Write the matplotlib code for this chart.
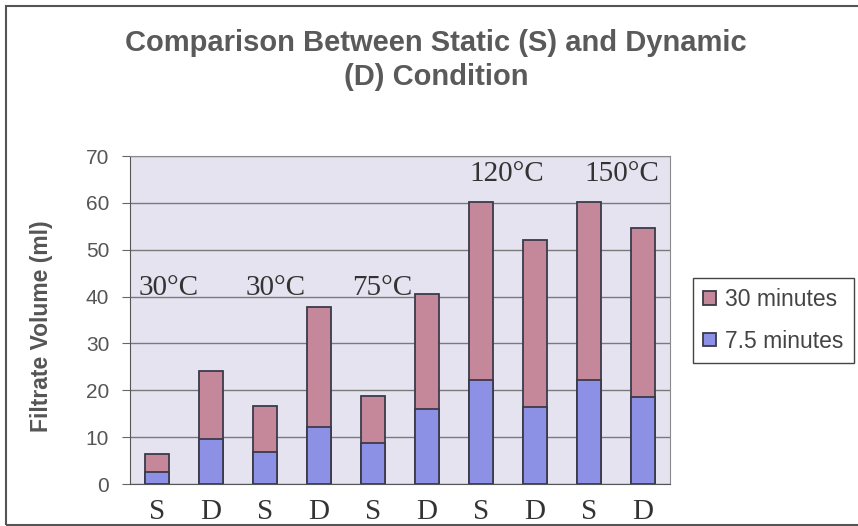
import matplotlib.pyplot as plt
from matplotlib.patches import Rectangle
import numpy as np

conditions = ['S', 'D', 'S', 'D', 'S', 'D', 'S', 'D', 'S', 'D']
vol_30min = [6.3, 24.1, 16.6, 37.8, 18.8, 40.5, 60.2, 52.0, 60.2, 54.7]
vol_7_5min = [2.6, 9.6, 6.9, 12.1, 8.7, 16.1, 22.2, 16.5, 22.3, 18.5]
temp_labels = ['30°C', '30°C', '75°C', '120°C', '150°C']
temp_x = [0.21, 2.19, 4.18, 6.47, 8.6]
temp_y = [40.3, 40.3, 40.3, 64.6, 64.6]

fig = plt.figure(figsize=(8.58, 5.26), dpi=100)
ax = fig.add_axes([130/858, 1-484/526, 540/858, 328/526])

# chart frame
fig.patches.append(Rectangle((6/858, 0.002), 1, 1-7/526, transform=fig.transFigure,
                             fill=False, edgecolor='#555555', linewidth=1.5))

x = np.arange(len(conditions))
ax.bar(x, vol_30min, width=0.45, color='#c5889a', edgecolor='#3a3a4a',
       linewidth=1.3, label='30 minutes', zorder=3)
ax.bar(x, vol_7_5min, width=0.45, color='#8d91e6', edgecolor='#3a3a4a',
       linewidth=1.3, label='7.5 minutes', zorder=3)

ax.set_facecolor('#e5e3ef')
ax.set_xlim(-0.5, len(conditions) - 0.5)
ax.set_ylim(0, 70)
ax.set_yticks(range(0, 71, 10))
ax.grid(axis='y', color='#7a7a7a', linewidth=1.0, zorder=1)
ax.set_xticks(x)
ax.set_xticklabels(conditions, family='Liberation Serif', fontsize=21, color='#333333')
ax.tick_params(axis='x', length=0, pad=11)
ax.tick_params(axis='y', length=6, color='#666666', pad=9, labelsize=15, labelcolor='#555555')
for lbl in ax.get_yticklabels():
    lbl.set_family('Liberation Sans')
for s in ax.spines.values():
    s.set_color('#8a8a8a')
ax.spines['left'].set_color('#555555')
ax.spines['bottom'].set_color('#555555')

for t, tx, ty in zip(temp_labels, temp_x, temp_y):
    ax.text(tx, ty, t, family='Liberation Serif', fontsize=21, color='#333333',
            ha='center', va='baseline', zorder=4)

ax.set_ylabel('Filtrate Volume (ml)', family='Liberation Sans', fontsize=16.5,
              fontweight='bold', color='#555555')
ax.yaxis.set_label_coords(-0.143, 0.482)

fig.text(436/858, 1-43/526, 'Comparison Between Static (S) and Dynamic',
         family='Liberation Sans', fontsize=21, fontweight='bold', color='#5a5a5a',
         ha='center', va='center')
fig.text(436/858, 1-77/526, '(D) Condition',
         family='Liberation Sans', fontsize=21, fontweight='bold', color='#5a5a5a',
         ha='center', va='center')

leg = fig.legend(loc='upper left', bbox_to_anchor=(693/858, 1-278/526),
                 prop={'family': 'Liberation Sans', 'size': 16.5},
                 handlelength=0.55, handleheight=0.55, handletextpad=0.4,
                 borderpad=0.45, borderaxespad=0, labelspacing=0.8, fancybox=False,
                 edgecolor='#444444', framealpha=1)
leg.get_frame().set_linewidth(1.0)
for txt in leg.get_texts():
    txt.set_color('#444444')

fig.savefig('out.png', dpi=100)
